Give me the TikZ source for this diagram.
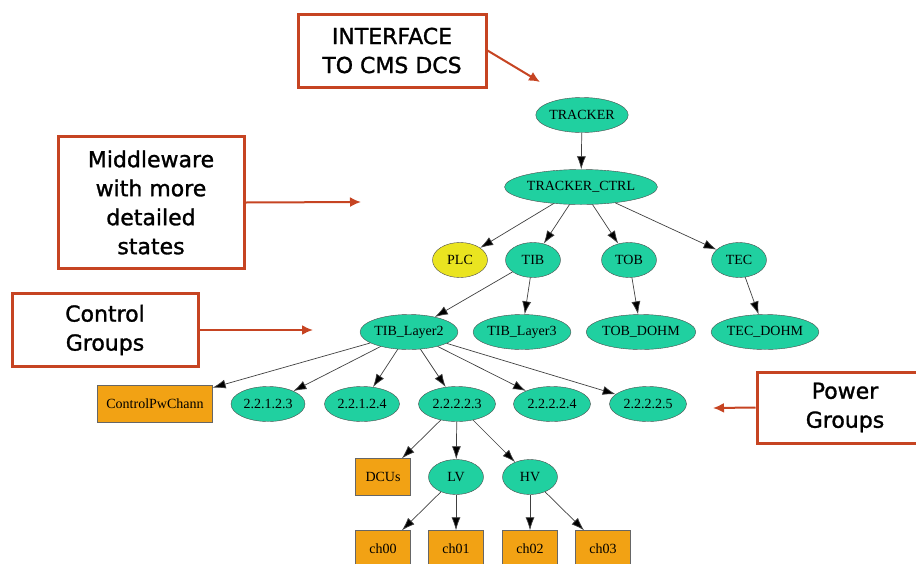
\documentclass[tikz,border=0pt]{standalone}
\usepackage{fontspec}
\setmainfont{Liberation Serif}
\newfontfamily\notefont[FakeBold=1.3]{DejaVu Sans}
\usepackage{tikz}
\usetikzlibrary{positioning,arrows.meta,shapes.geometric}
\definecolor{objgreen}{RGB}{32,208,160}
\definecolor{plcyellow}{RGB}{234,228,32}
\definecolor{unitorange}{RGB}{242,162,20}
\definecolor{notered}{RGB}{198,68,34}
\tikzstyle{obj}=[ellipse,draw=black!70,fill=objgreen,inner sep=0pt,minimum width=55pt,minimum height=35pt,font=\fontsize{14}{15}\selectfont]
\tikzstyle{unit}=[rectangle,draw=black!60,fill=unitorange,inner sep=0pt,minimum width=55pt,minimum height=37pt,font=\fontsize{14}{15}\selectfont]
\tikzstyle{note}=[rectangle,draw=notered,line width=3pt,fill=white,align=center,inner sep=0pt,font=\notefont\fontsize{22}{29}\selectfont]
\tikzstyle{link}=[-{Latex[length=13pt,width=9pt,fill=black]},draw=black!75,line width=0.7pt]
\tikzstyle{pointer}=[-{Latex[length=11pt,width=10pt]},draw=notered,line width=2pt]

\begin{document}
\begin{tikzpicture}[x=1pt,y=-1pt]
    \useasboundingbox (0,0) rectangle (916,563);

          \node[obj,minimum width=90pt]  (tracker)      at (582,115) {TRACKER};
          \node[obj,minimum width=137pt] (tracker_ctrl) at (581,187) {TRACKER\_CTRL};
          \node[obj,fill=plcyellow]      (plc)          at (460,260) {PLC};
          \node[obj]                     (tib)          at (533,260) {TIB};
          \node[obj]                     (tob)          at (629,260) {TOB};
          \node[obj]                     (tec)          at (739,260) {TEC};
          \node[obj,minimum width=94pt]  (tib_l2)       at (409,332) {TIB\_Layer2};
          \node[obj,minimum width=94pt]  (tib_l3)       at (522,332) {TIB\_Layer3};
          \node[obj,minimum width=105pt] (tob_dohm)     at (641,332) {TOB\_DOHM};
          \node[obj,minimum width=103pt] (tec_dohm)     at (765,332) {TEC\_DOHM};

          \node[unit,minimum width=115pt] (ctrl_pw) at (155,404) {ControlPwChann};
          \node[obj,minimum width=74pt]  (pg_1) at (268,404) {2.2.1.2.3};
          \node[obj,minimum width=75pt]  (pg_2) at (362,404) {2.2.1.2.4};
          \node[obj,minimum width=77pt]  (pg_3) at (457,404) {2.2.2.2.3};
          \node[obj,minimum width=77pt]  (pg_4) at (552,404) {2.2.2.2.4};
          \node[obj,minimum width=77pt]  (pg_5) at (648,404) {2.2.2.2.5};

          \node[unit] (dcus) at (383,477) {DCUs};
          \node[obj]  (lv)   at (456,477) {LV};
          \node[obj]  (hv)   at (530,477) {HV};
          \node[unit] (ch_0) at (383,549) {ch00};
          \node[unit] (ch_1) at (456,549) {ch01};
          \node[unit] (ch_2) at (530,549) {ch02};
          \node[unit] (ch_3) at (603,549) {ch03};

          \path[link] (tracker) edge (tracker_ctrl)
                    (tracker_ctrl) edge (plc)
                    (tracker_ctrl) edge (tib)
                    (tracker_ctrl) edge (tob)
                    (tracker_ctrl) edge (tec)
                    (tib) edge (tib_l2)
                    (tib) edge (tib_l3)
                    (tob) edge (tob_dohm)
                    (tec) edge (tec_dohm)
                    (tib_l2) edge (ctrl_pw)
                    (tib_l2) edge (pg_1)
                    (tib_l2) edge (pg_2)
                    (tib_l2) edge (pg_3)
                    (tib_l2) edge (pg_4)
                    (tib_l2) edge (pg_5)
                    (pg_3) edge (dcus)
                    (pg_3) edge (lv)
                    (pg_3) edge (hv)
                    (lv) edge (ch_0)
                    (lv) edge (ch_1)
                    (hv) edge (ch_2)
                    (hv) edge (ch_3);

        % callouts
        \node[note,minimum width=188pt,minimum height=73pt]  (iface)  at (392,50.5)  {INTERFACE\\TO CMS DCS};
        \node[note,minimum width=186pt,minimum height=132pt] (mware)  at (151,202.5) {Middleware\\with more\\detailed\\states};
        \node[note,minimum width=186pt,minimum height=73pt]  (ctrl_g) at (105,330)   {Control\\Groups};
        \node[note,minimum width=176pt,minimum height=71pt]  (pow_g)  at (845,407.5) {Power\\Groups};
        \coordinate (iface_tip)  at (540,82);
        \coordinate (mware_tip)  at (361,202);
        \coordinate (ctrl_g_tip) at (313,330);
        \coordinate (pow_g_tip)  at (713,408);
        \draw[pointer] (iface.east) -- (iface_tip);
        \draw[pointer] (mware.east) -- (mware_tip);
        \draw[pointer] (ctrl_g.east) -- (ctrl_g_tip);
        \draw[pointer] (pow_g.west) -- (pow_g_tip);
\end{tikzpicture}
\end{document}
